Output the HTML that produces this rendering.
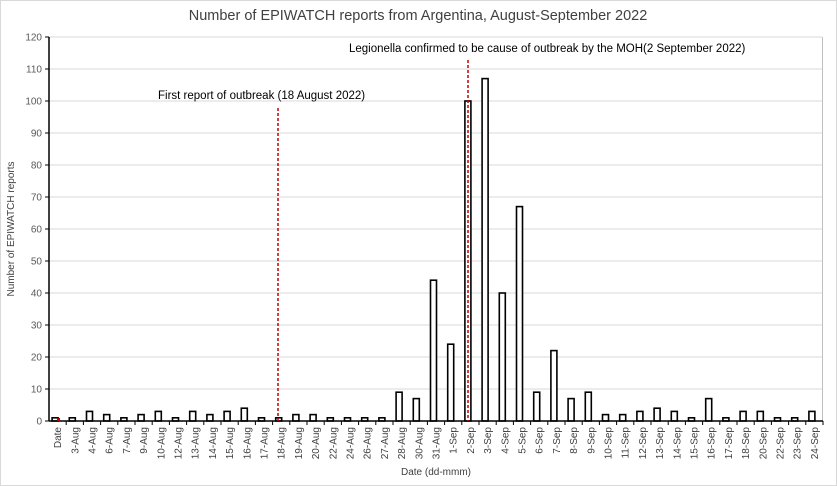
<!DOCTYPE html>
<html><head><meta charset="utf-8"><style>
body{margin:0;background:#fff}
svg{display:block;font-family:"Liberation Sans",Calibri,sans-serif}
</style></head><body>
<svg width="837" height="486" viewBox="0 0 837 486" xmlns="http://www.w3.org/2000/svg">
<rect x="0.5" y="0.5" width="836" height="485" fill="#fff" stroke="#d9d9d9"/>
<text x="418" y="20" font-size="14.5" text-anchor="middle" fill="#404040">Number of EPIWATCH reports from Argentina, August-September 2022</text>
<g id="grid" stroke="#d9d9d9" stroke-width="1"></g>
<g id="yl" font-size="10" fill="#595959" text-anchor="end"></g>
<text transform="translate(14,229) rotate(-90)" font-size="10" fill="#404040" text-anchor="middle">Number of EPIWATCH reports</text>
<text x="436" y="475" font-size="10" fill="#404040" text-anchor="middle">Date (dd-mmm)</text>
<line x1="822.5" y1="37" x2="822.5" y2="421" stroke="#bfbfbf"/>
<g id="bars" fill="#fff" stroke="#000" stroke-width="1.6"></g>
<line x1="49" y1="421" x2="823" y2="421" stroke="#000" stroke-width="1.5"/>
<line x1="49" y1="37" x2="49" y2="421" stroke="#000" stroke-width="1.5"/>
<g id="ticks" stroke="#000"></g>
<g id="xl" font-size="10" fill="#404040"></g>
<rect x="57" y="418" width="3" height="3" fill="#c00000"/>
<line x1="278" y1="108" x2="278" y2="421" stroke="#c00000" stroke-width="1.5" stroke-dasharray="3,2"/>
<line x1="468" y1="60" x2="468" y2="421" stroke="#c00000" stroke-width="1.5" stroke-dasharray="3,2"/>
<text x="158" y="99" font-size="11.5" fill="#000">First report of outbreak (18 August 2022)</text>
<text x="349" y="52" font-size="11.5" fill="#000">Legionella confirmed to be cause of outbreak by the MOH(2 September 2022)</text>
</svg>
<script>
var ns="http://www.w3.org/2000/svg";
function el(p,t,a,txt){var e=document.createElementNS(ns,t);for(var k in a)e.setAttribute(k,a[k]);if(txt!=null)e.textContent=txt;document.getElementById(p).appendChild(e);}
for(var v=0;v<=120;v+=10){var y=421-v*3.2;if(v>0)el("grid","line",{x1:49,x2:822,y1:y,y2:y});el("yl","text",{x:42,y:y+3.5},v);el("ticks","line",{x1:45,x2:49,y1:y,y2:y});}
var labs=["Date","3-Aug","4-Aug","6-Aug","7-Aug","9-Aug","10-Aug","12-Aug","13-Aug","14-Aug","15-Aug","16-Aug","17-Aug","18-Aug","19-Aug","20-Aug","22-Aug","24-Aug","26-Aug","27-Aug","28-Aug","30-Aug","31-Aug","1-Sep","2-Sep","3-Sep","4-Sep","5-Sep","6-Sep","7-Sep","8-Sep","9-Sep","10-Sep","11-Sep","12-Sep","13-Sep","14-Sep","15-Sep","16-Sep","17-Sep","18-Sep","20-Sep","22-Sep","23-Sep","24-Sep"];
var vals=[1,1,3,2,1,2,3,1,3,2,3,4,1,1,2,2,1,1,1,1,9,7,44,24,100,107,40,67,9,22,7,9,2,2,3,4,3,1,7,1,3,3,1,1,3];
var n=45,st=774/n;
for(var i=0;i<n;i++){var c=49+st*(i+0.5);var h=vals[i]*3.2;
el("bars","rect",{x:c-5.5,y:421-h,width:6,height:h});
el("ticks","line",{x1:49+st*(i+1),x2:49+st*(i+1),y1:421,y2:425});
el("xl","text",{transform:"translate("+(c+3.5)+",427) rotate(-90)","text-anchor":"end"},labs[i]);}
</script>
</body></html>
